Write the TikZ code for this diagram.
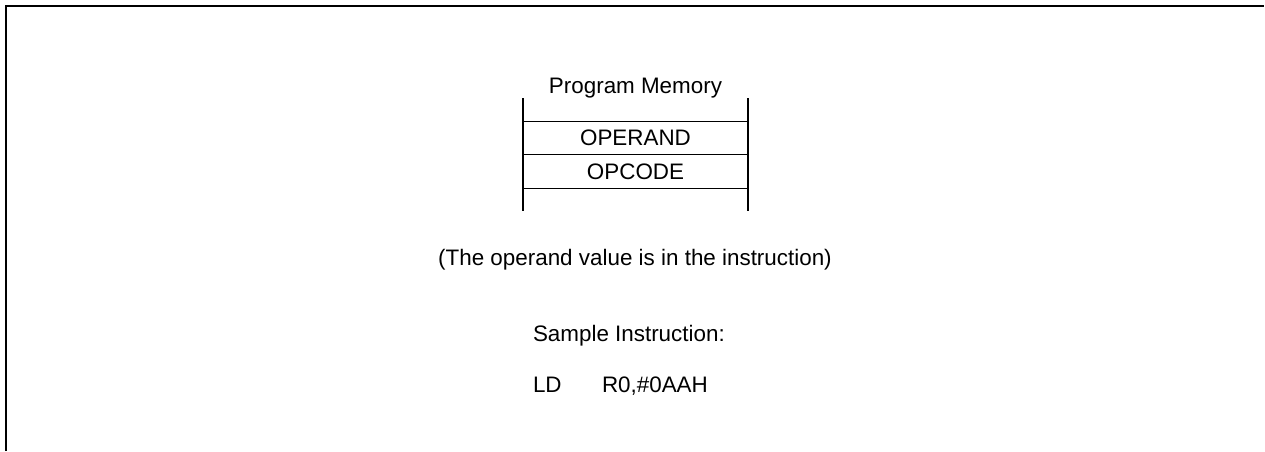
\documentclass[tikz,border=0pt]{standalone}
\usepackage{fontspec}
\setmainfont{Liberation Sans}
\usetikzlibrary{positioning}

\begin{document}
\begin{tikzpicture}[
  font=\fontsize{12.75}{15}\selectfont,
  frame/.style={line width=1.3pt, black},
  rule/.style={line width=0.65pt, black},
  cell/.style={minimum width=4.5cm, minimum height=0.67cm, inner sep=0pt, outer sep=0pt},
  txt/.style={inner sep=0pt, outer sep=0pt}]
\useasboundingbox (0,0) rectangle (25.3,9.02);
% outer frame (top and left edges only)
\coordinate (ftl) at (0.12,8.90);
\coordinate (ftr) at (25.28,8.90);
\coordinate (fbl) at (0.12,0);
\draw[frame] (fbl) -- (ftl) -- (ftr);
% program memory column
\node[cell] (opnd) at (12.71,6.26) {OPERAND};
\node[cell, below=0pt of opnd] (opc) {OPCODE};
\node[txt, anchor=base] (pm) at (12.71,7.15) {Program Memory};
\draw[rule] (opnd.north west) -- (opnd.north east);
\draw[rule] (opnd.south west) -- (opnd.south east);
\draw[rule] (opc.south west) -- (opc.south east);
\draw[rule] (opnd.north west) ++(0,0.46) -- ++(0,-2.26);
\draw[rule] (opnd.north east) ++(0,0.46) -- ++(0,-2.26);
% notes
\node[txt, anchor=base] (note) at (12.70,3.72) {(The operand value is in the instruction)};
\node[txt, anchor=base west] (smp) at (10.66,2.19) {Sample Instruction:};
\node[txt, anchor=base west] (ld) at (10.66,1.17) {LD};
\node[txt, anchor=base west] (arg) at (12.04,1.17) {R0,\#0AAH};
\end{tikzpicture}
\end{document}
